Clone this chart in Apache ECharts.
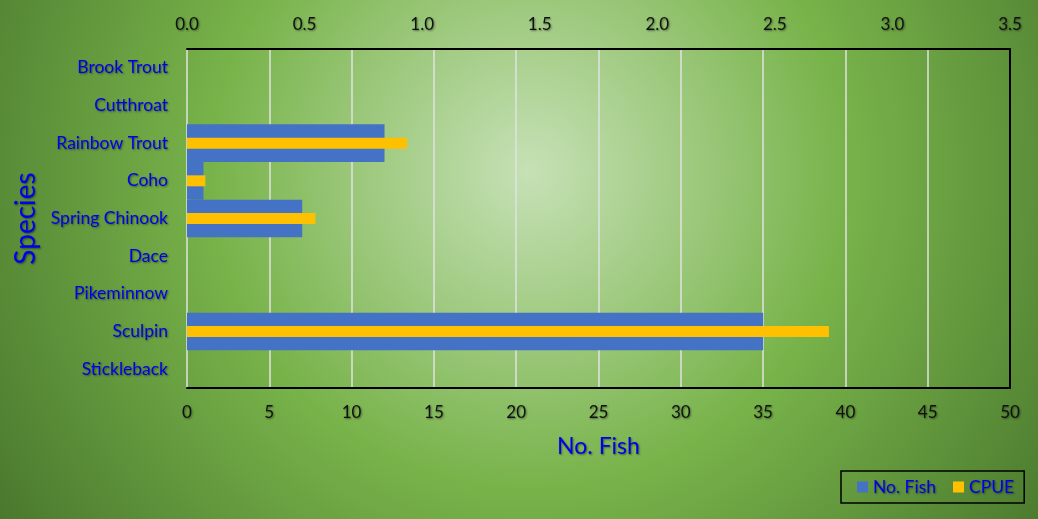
<!DOCTYPE html>
<html>
<head>
<meta charset="utf-8">
<script src="https://cdn.jsdelivr.net/npm/echarts@6/dist/echarts.min.js"></script>
<style>html,body{margin:0;padding:0;}#c{width:1038px;height:519px;}</style>
</head>
<body>
<div id="c"></div>
<script>
const categories = ['Brook Trout','Cutthroat','Rainbow Trout','Coho','Spring Chinook','Dace','Pikeminnow','Sculpin','Stickleback'];
const noFish = [0, 0, 12, 1, 7, 0, 0, 35, 0];
const cpue = [0, 0, 0.936, 0.078, 0.546, 0, 0, 2.73, 0];
const bottomTicks = [0, 50, 5];
const topTicks = [0, 3.5, 0.5];

const FONT = 'Lato';
const shadow = {textShadowColor: 'rgba(0,0,0,0.45)', textShadowBlur: 2, textShadowOffsetX: 1, textShadowOffsetY: 1};
const chart = echarts.init(document.getElementById('c'), null, {renderer: 'canvas'});
chart.setOption({
  animation: false,
  backgroundColor: new echarts.graphic.RadialGradient(0.51, 0.33, 1.22, [
    {offset: 0, color: '#c6e1b6'},
    {offset: 0.5, color: '#78b34a'},
    {offset: 1, color: '#4a782e'}
  ]),
  textStyle: {fontFamily: FONT},
  grid: {left: 187, right: 28, top: 49, bottom: 131, containLabel: false},
  legend: {
    left: 841, top: 471, padding: [7, 10, 7, 16],
    borderColor: '#000', borderWidth: 1.5,
    itemWidth: 11, itemHeight: 11, itemGap: 17,
    icon: 'rect',
    textStyle: Object.assign({color: '#0000ee', fontSize: 17.5, fontFamily: FONT}, shadow),
    data: ['No. Fish', 'CPUE']
  },
  xAxis: [
    {
      type: 'value', position: 'bottom',
      min: bottomTicks[0], max: bottomTicks[1], interval: bottomTicks[2],
      name: 'No. Fish', nameLocation: 'middle', nameGap: 47,
      nameTextStyle: Object.assign({color: '#0000ee', fontSize: 23, fontFamily: FONT}, shadow),
      axisLine: {show: true, onZero: false, lineStyle: {color: '#000', width: 2}},
      axisTick: {show: false},
      axisLabel: Object.assign({color: '#111', fontSize: 17, margin: 16, fontFamily: FONT}, shadow),
      splitLine: {show: true, showMinLine: true, showMaxLine: false, lineStyle: {color: '#e2e2e2', width: 1.5}}
    },
    {
      type: 'value', position: 'top',
      min: topTicks[0], max: topTicks[1], interval: topTicks[2],
      axisLine: {show: true, onZero: false, lineStyle: {color: '#000', width: 2}},
      axisTick: {show: false},
      axisLabel: Object.assign({color: '#111', fontSize: 17, margin: 16, fontFamily: FONT,
        formatter: v => v.toFixed(1)}, shadow),
      splitLine: {show: false}
    }
  ],
  yAxis: [
    {
      type: 'category', data: categories, inverse: true, position: 'left',
      name: 'Species', nameLocation: 'middle', nameGap: 146, nameRotate: 90,
      nameTextStyle: Object.assign({color: '#0000ee', fontSize: 28, fontFamily: FONT}, shadow),
      axisLine: {show: false}, axisTick: {show: false},
      axisLabel: Object.assign({color: '#0000ee', fontSize: 17.5, margin: 19, fontFamily: FONT}, shadow),
      splitLine: {show: false}
    },
    {
      type: 'category', data: categories, inverse: true, position: 'right',
      axisLine: {show: true, onZero: false, lineStyle: {color: '#000', width: 2}},
      axisTick: {show: false}, axisLabel: {show: false}, splitLine: {show: false}
    }
  ],
  series: [
    {
      name: 'No. Fish', type: 'bar', xAxisIndex: 0, yAxisIndex: 0,
      data: noFish, barWidth: '100%', barCategoryGap: 0,
      itemStyle: {color: '#4472c4'}
    },
    {
      name: 'CPUE', type: 'bar', xAxisIndex: 1, yAxisIndex: 1,
      data: cpue, barWidth: 11,
      itemStyle: {color: '#ffc000'}
    }
  ]
});
</script>
</body>
</html>
